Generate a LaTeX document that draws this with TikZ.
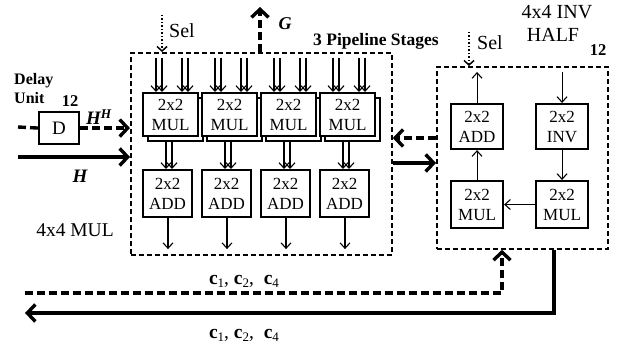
\documentclass[tikz,border=0pt]{standalone}
\usepackage{fontspec}
\setmainfont{Liberation Serif}
\usetikzlibrary{arrows.meta,calc}
\newcommand{\csub}[1]{{\bfseries c}\raisebox{-3pt}{\fontsize{13}{13}\selectfont #1}}
\begin{document}
\begin{tikzpicture}[x=1pt,y=-1pt,
  box/.style={draw, line width=2.1pt, fill=white, inner sep=0pt, align=center, anchor=north west,
    font=\fontsize{17}{20}\selectfont},
  dbox/.style={draw, line width=1.8pt, dash pattern=on 5pt off 3pt, inner sep=0pt, anchor=north west},
  thinarr/.style={line width=1.1pt, -{Straight Barb[length=5.5pt,width=10pt,line width=1.1pt]}},
  thickarr/.style={line width=3.4pt, -{Straight Barb[length=8pt,width=17pt,line width=3.4pt]}},
  thickdash/.style={thickarr, dash pattern=on 8pt off 4pt},
  selarr/.style={line width=1.8pt, dash pattern=on 1.5pt off 2pt, -{Straight Barb[length=4.5pt,width=10pt,line width=1.5pt]}},
  lbl/.style={inner sep=0pt}
]
\useasboundingbox (0,0) rectangle (632,350);

% ---------- main 4x4 MUL box ----------
\node[dbox, minimum width=261pt, minimum height=202pt] (mainbox) at (130,52) {};
\node[lbl, font=\fontsize{19.5}{19.5}\selectfont] (mullbl) at (75,230) {4x4 MUL};

\foreach \i in {1,...,4} {
  \pgfmathsetmacro\L{142+59*(\i-1)}
  \node[box, minimum width=55pt, minimum height=43pt] (ms\i) at (\L+5,97) {};
  \node[box, minimum width=55pt, minimum height=43pt] (m\i) at (\L,92) {2x2\\MUL};
  \node[box, minimum width=49pt, minimum height=47pt] (a\i) at (\L,169) {2x2\\ADD};
  \foreach \dx in {14,20,40,46}
    \draw[thinarr] ($(m\i.north west)+(\dx,-34)$) -- ($(m\i.north west)+(\dx,0)$);
  \foreach \dx in {24,30}
    \draw[thinarr] ($(a\i.north west)+(\dx,-29)$) -- ($(a\i.north west)+(\dx,0)$);
  \draw[thinarr] ($(a\i.south west)+(26,0)$) -- ($(a\i.south west)+(26,31)$);
}

% Sel and G on main box
\coordinate (sel1) at (162,15);
\draw[selarr] (sel1) -- (sel1 |- mainbox.north);
\node[lbl, anchor=west, font=\fontsize{20}{20}\selectfont] (sel1lbl) at (169,31) {Sel};
\coordinate (gtip) at (260,7);
\draw[thickdash] (gtip |- mainbox.north) -- (gtip);
\node[lbl, font=\fontsize{18}{18}\selectfont\bfseries\itshape] (glbl) at (285,24) {G};
\node[lbl, anchor=west, font=\fontsize{17.5}{17.5}\selectfont\bfseries] (stages) at (313,41) {3 Pipeline Stages};

% ---------- delay unit ----------
\node[lbl, anchor=north west, align=left, font=\fontsize{16}{19}\selectfont\bfseries] (delaylbl) at (14,73) {Delay\\Unit};
\node[lbl, font=\fontsize{16.5}{16.5}\selectfont\bfseries] (d12) at (70,101) {12};
\node[box, minimum width=40pt, minimum height=32pt, font=\fontsize{19}{19}\selectfont] (dbx) at (38,111) {D};
\coordinate (hhstart) at (18,127);
\draw[line width=3.4pt, dash pattern=on 8pt off 4pt] (hhstart) -- (dbx.west);
\draw[thickdash] (dbx.east) -- (dbx.east -| mainbox.west);
\node[lbl, font=\fontsize{19}{19}\selectfont\bfseries\itshape] (hhlbl) at (99,117) {H\textsuperscript{H}};
\coordinate (hstart) at (18,157);
\draw[thickarr] (hstart) -- (hstart -| mainbox.west);
\node[lbl, font=\fontsize{19}{19}\selectfont\bfseries\itshape] (hlbl) at (80,176) {H};

% ---------- 4x4 INV HALF ----------
\node[dbox, minimum width=171pt, minimum height=182pt] (invbox) at (436,66) {};
\node[lbl, font=\fontsize{20}{20}\selectfont] (invlbl1) at (557,12) {4x4 INV};
\node[lbl, font=\fontsize{20}{20}\selectfont] (invlbl2) at (553,35) {HALF};
\node[lbl, font=\fontsize{16.5}{16.5}\selectfont\bfseries] (i12) at (598,50) {12};

\node[box, minimum width=52pt, minimum height=45pt] (iadd) at (450,103) {2x2\\ADD};
\node[box, minimum width=52pt, minimum height=45pt] (iinv) at (535,103) {2x2\\INV};
\node[box, minimum width=52pt, minimum height=47pt] (imull) at (450,180) {2x2\\MUL};
\node[box, minimum width=52pt, minimum height=47pt] (imulr) at (535,180) {2x2\\MUL};

\draw[thinarr] ($(iinv.north)+(0,-31)$) -- (iinv.north);
\draw[thinarr] (iinv.south) -- (imulr.north);
\draw[thinarr] (imulr.west) -- (imull.east);
\draw[thinarr] (imull.north) -- (iadd.south);
\draw[thinarr] (iadd.north) -- ($(iadd.north)+(0,-31)$);

\coordinate (sel2) at (469,32);
\draw[selarr] (sel2) -- (sel2 |- invbox.north);
\node[lbl, anchor=west, font=\fontsize{20}{20}\selectfont] (sel2lbl) at (477,43) {Sel};

% ---------- links between boxes ----------
\coordinate (fb) at (0,138);
\draw[thickdash] (fb -| invbox.west) -- (fb -| mainbox.east);
\coordinate (fw) at (0,163);
\draw[thickarr] (fw -| mainbox.east) -- (fw -| invbox.west);

% ---------- bottom returns ----------
\coordinate (cin) at (25,293);
\coordinate (cinup) at (502,293);
\draw[thickdash] (cin) -- (cinup) -- (cinup |- invbox.south);
\coordinate (coutd) at (554,313);
\coordinate (cout) at (25,313);
\draw[thickarr] (coutd |- invbox.south) -- (coutd) -- (cout);

\node[lbl, font=\fontsize{19.5}{19.5}\selectfont] (clbl1) at (244,281) {\csub{1}, \csub{2}, \ \csub{4}};
\node[lbl, font=\fontsize{19.5}{19.5}\selectfont] (clbl2) at (244,335) {\csub{1}, \csub{2}, \ \csub{4}};
\end{tikzpicture}
\end{document}
